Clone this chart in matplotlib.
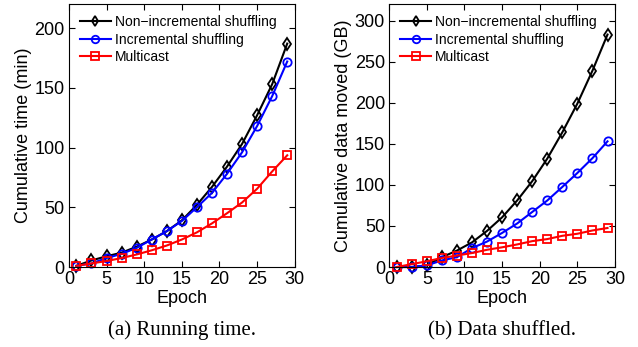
import numpy as np
import matplotlib
matplotlib.use('Agg')
import matplotlib.pyplot as plt

plt.rcParams['font.family'] = ['Liberation Sans', 'DejaVu Sans']
plt.rcParams['axes.unicode_minus'] = True

epoch = [1, 3, 5, 7, 9, 11, 13, 15, 17, 19, 21, 23, 25, 27, 29]

# (a) running time, minutes
time_noninc = [1, 5.5, 9, 12, 17, 23, 30, 39, 52, 67, 84, 103, 127, 153, 187]
time_inc = [1, 3, 7.5, 11, 16, 23, 30, 38.5, 50, 62, 78, 96, 118, 143, 172]
time_multi = [1, 3, 5, 7.5, 10.5, 14, 18, 23, 29, 36.5, 45, 54, 65.5, 80, 93.5]

# (b) data moved, GB
data_noninc = [0, 0, 2, 12, 20, 30, 44, 60.5, 81, 104.5, 132, 164, 199, 239, 283]
data_inc = [0, 0, 2, 8, 12, 23, 31, 41.5, 53, 67, 81, 97.5, 114.5, 132.5, 153]
data_multi = [0, 3.5, 7, 11, 14, 17, 21, 24, 27.5, 31.5, 34, 38, 40.5, 44.5, 47.5]

labels = ['Non\u2212incremental shuffling', 'Incremental shuffling', 'Multicast']
styles = [('k', 'd'), ('b', 'o'), ('r', 's')]

fig = plt.figure(figsize=(6.38, 3.47), dpi=100)
ax1 = fig.add_axes([0.108, 0.2305, 0.354, 0.7575])
ax2 = fig.add_axes([0.610, 0.2305, 0.354, 0.7575])


def draw(ax, series, ylim, yticks, ylabel):
    for ys, lab, (c, m) in zip(series, labels, styles):
        ax.plot(epoch, ys, color=c, marker=m, markerfacecolor='none',
                markeredgecolor=c, markersize=6, markeredgewidth=1.3,
                linewidth=1.5, label=lab, clip_on=False)
    ax.set_xlim(0, 30)
    ax.set_ylim(*ylim)
    ax.set_xticks([0, 5, 10, 15, 20, 25, 30])
    ax.set_yticks(yticks)
    ax.tick_params(direction='in', top=True, right=True, labelsize=13,
                   length=4, pad=3)
    ax.set_xlabel('Epoch', fontsize=13, labelpad=1)
    ax.set_ylabel(ylabel, fontsize=13, labelpad=2)
    ax.legend(loc='upper left', frameon=False, fontsize=10,
              handlelength=2.2, handletextpad=0.3, labelspacing=0.25,
              borderaxespad=0.5, borderpad=0.3, markerscale=0.9)


draw(ax1, [time_noninc, time_inc, time_multi], (0, 220),
     [0, 50, 100, 150, 200], 'Cumulative time (min)')
draw(ax2, [data_noninc, data_inc, data_multi], (0, 320),
     [0, 50, 100, 150, 200, 250, 300], 'Cumulative data moved (GB)')

fig.text(0.285, 0.048, '(a) Running time.', ha='center', va='center',
         fontsize=15, family='Liberation Serif')
fig.text(0.787, 0.048, '(b) Data shuffled.', ha='center', va='center',
         fontsize=15, family='Liberation Serif')

fig.savefig('out.png', dpi=100)
